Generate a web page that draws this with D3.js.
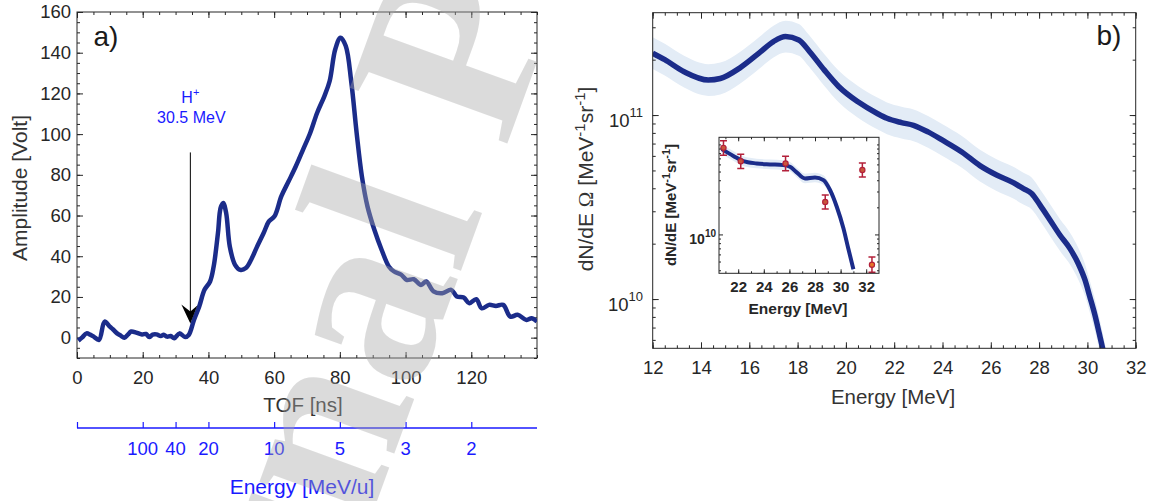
<!DOCTYPE html>
<html>
<head>
<meta charset="utf-8">
<script src="https://cdn.jsdelivr.net/npm/d3@7"></script>
<style>
  body { margin: 0; background: #fff; }
  svg { display: block; }
  text { font-family: "Liberation Sans", Arial, Helvetica, sans-serif; }
</style>
</head>
<body>
<div id="chart"></div>
<script>
// ---- panel a) : TOF trace
var tofNs = [0.4, 1.5, 2.9, 4, 5.1, 6.7, 8.4, 10, 11, 12.2, 13.3, 14.4, 15.5, 16.5, 18, 19.8, 21, 22, 23, 24.2,
  25.5, 26.4, 27.4, 28.5, 29.6, 31.2, 32.9, 34, 35.6, 37.2, 38.8, 40.5, 41.6, 42.9, 43.7, 44.5, 45.4, 46.5, 48.1,
  49.7, 51.4, 53, 54.6, 56.8, 58.4, 60.1, 62.2, 64.4, 66.6, 68.8, 71, 73.1, 75.3, 76.9, 78.6, 80.2, 81.8, 83.5,
  85.1, 86.7, 88.4, 90.5, 92.7, 94.9, 96.5, 98.7, 100.3, 102.5, 104.7, 106.3, 108.5, 111.2, 113.9, 115.6, 117.7,
  119.4, 121.5, 123.2, 125.4, 127.5, 129.7, 131.9, 134.1, 136.8, 138.4, 140]
var amplitudeV = [-1.5, 0, 2.1, 1.5, 0.5, -1.1, 7.9, 5.4, 4, 2.1, 1, 0, 1.5, 3, 2.5, 1.6, 1.8, 0.3, 1.5, 1.6,
  0.8, 1.4, 0.5, 0.8, -0.3, 2.1, 0.3, 1.3, 8.7, 15.3, 23.5, 27.6, 35, 51.4, 63.7, 66.2, 61.2, 44.8, 35.8,
  33.3, 34.2, 38.3, 44, 51.4, 57.1, 59.6, 69.5, 76.8, 84.2, 92.4, 100.7, 110.5, 118.7, 126.1, 141.7, 147.4, 143.3, 125.3,
  100.7, 79.3, 64.5, 53, 43.2, 35, 32.5, 30.9, 28.4, 28.7, 25.9, 27.6, 22.7, 21.8, 23.5, 20.2, 19.7,
  16.9, 18.9, 14.4, 16.1, 15.6, 16.1, 10.3, 11.2, 8.7, 9.5, 7.9]
var tofTicks = [0, 20, 40, 60, 80, 100, 120]
var ampTicks = [0, 20, 40, 60, 80, 100, 120, 140, 160]
var energyAxisTof = [0, 20, 30, 40, 60, 80, 100, 120]
var energyAxisLabels = ["", "100", "40", "20", "10", "5", "3", "2"]
var arrowTof = 34.5, arrowFromV = 91, arrowToV = 7
var ionLabel = { tof: 34.5, v1: 118, v2: 108.5 }

// ---- panel b) : proton spectrum
var specEnergy = [12, 12.5, 13.3, 14.3, 14.8, 15.6, 16.4, 17, 17.5, 18.05, 18.5, 19.1, 19.7, 20.5, 21.3, 21.7,
  22.3, 22.8, 23.4, 24, 24.8, 25.55, 26.24, 26.93, 27.35, 27.69, 28.04, 28.45, 28.86, 29.28, 29.62, 29.9,
  30.1, 30.31, 30.49, 30.63, 30.75]
var specValue = [2.17e11, 2.0e11, 1.72e11, 1.55e11, 1.58e11, 1.8e11, 2.17e11, 2.51e11, 2.67e11, 2.56e11, 2.21e11,
  1.76e11, 1.43e11, 1.18e11, 1.02e11, 9.6e10, 9.1e10, 8.8e10, 8.1e10, 7.3e10, 6.3e10, 5.31e10, 4.72e10, 4.29e10,
  3.98e10, 3.75e10, 3.24e10, 2.69e10, 2.23e10, 1.88e10, 1.56e10, 1.27e10, 1.03e10, 8.2e9, 6.5e9, 5.4e9, 4.5e9]
var specBandFactor = 1.22
var energyTicks = [12, 14, 16, 18, 20, 22, 24, 26, 28, 30, 32]

// ---- inset
var insetEnergy = [20.71, 21.62, 22.4, 23.44, 24.48, 25.52, 26.05, 26.57, 27.22, 28.0, 28.66, 29.18, 29.7, 30.22, 30.6, 31.0]
var insetValue = [8.87e10, 7.46e10, 6.52e10, 6.15e10, 6.0e10, 5.89e10, 5.64e10, 4.89e10, 4.19e10, 4.3e10, 4.01e10,
  3.1e10, 2.03e10, 1.17e10, 6.98e9, 4.11e9]
var pointEnergy = [20.85, 22.2, 25.7, 28.8, 31.7, 32.45]
var pointValue = [9.16e10, 6.5e10, 6.15e10, 2.3e10, 5.2e10, 4.6e9]
var pointLow = [7.6e10, 5.4e10, 5.1e10, 1.92e10, 4.35e10, 3.8e9]
var pointHigh = [1.1e11, 7.8e10, 7.4e10, 2.75e10, 6.2e10, 5.6e9]
var insetTicks = [22, 24, 26, 28, 30, 32]

var W = 1165, H = 501
var ink = "#262626", navy = "#1b2c8a", blue = "#1a1aff", band = "#e3ecf6"

var svg = d3.select("#chart").append("svg").attr("width", W).attr("height", H)
var defs = svg.append("defs")

function clip(id, x0, y0, x1, y1) {
  defs.append("clipPath").attr("id", id).append("rect")
    .attr("x", x0).attr("y", y0).attr("width", x1 - x0).attr("height", y1 - y0)
}

function boxTicks(g, x, y, xMinor, yMinor, xMajor, yMajor, big, small) {
  var x0 = x.range()[0], x1 = x.range()[1], yb = y.range()[0], yt = y.range()[1]
  var add = function(axis, tr) {
    var a = g.append("g").attr("transform", tr).call(axis)
    a.select(".domain").remove()
    a.selectAll("line").attr("stroke", ink)
    return a
  }
  add(d3.axisBottom(x).tickValues(xMinor).tickSize(-small).tickFormat(""), "translate(0," + yb + ")")
  add(d3.axisTop(x).tickValues(xMinor).tickSize(-small).tickFormat(""), "translate(0," + yt + ")")
  add(d3.axisLeft(y).tickValues(yMinor).tickSize(-small).tickFormat(""), "translate(" + x0 + ",0)")
  add(d3.axisRight(y).tickValues(yMinor).tickSize(-small).tickFormat(""), "translate(" + x1 + ",0)")
  add(d3.axisTop(x).tickValues(xMajor).tickSize(-big).tickFormat(""), "translate(0," + yt + ")")
  add(d3.axisRight(y).tickValues(yMajor).tickSize(-big).tickFormat(""), "translate(" + x1 + ",0)")
  g.append("rect").attr("x", x0).attr("y", yt).attr("width", x1 - x0).attr("height", yb - yt)
    .attr("fill", "none").attr("stroke", ink).attr("stroke-width", 1)
}

// ================= panel a)
var xA = d3.scaleLinear().domain([0, 140]).range([77, 537])
var yA = d3.scaleLinear().domain([-10, 160]).range([358, 12])
var gA = svg.append("g")
clip("clipA", 77, 12, 537, 358)

boxTicks(gA, xA, yA, d3.range(0, 141, 5), d3.range(-10, 161, 5), tofTicks, ampTicks, 6, 3)

var axA = gA.append("g").attr("transform", "translate(0,358)")
  .call(d3.axisBottom(xA).tickValues(tofTicks).tickSize(-6).tickPadding(13))
axA.select(".domain").remove()
axA.selectAll("line").attr("stroke", ink)
axA.selectAll("text").attr("font-size", 18.5).attr("fill", ink)

var ayA = gA.append("g").attr("transform", "translate(77,0)")
  .call(d3.axisLeft(yA).tickValues(ampTicks).tickSize(-6).tickPadding(6))
ayA.select(".domain").remove()
ayA.selectAll("line").attr("stroke", ink)
ayA.selectAll("text").attr("font-size", 18.5).attr("fill", ink)

var tofData = tofNs.map(function(t, i) { return { x: t, y: amplitudeV[i] } })
gA.append("path").datum(tofData)
  .attr("clip-path", "url(#clipA)")
  .attr("fill", "none").attr("stroke", navy).attr("stroke-width", 4.5)
  .attr("stroke-linejoin", "round")
  .attr("d", d3.line().x(function(d) { return xA(d.x) }).y(function(d) { return yA(d.y) })
    .curve(d3.curveCatmullRom.alpha(0.5)))

// arrow + ion label
var ax = xA(arrowTof)
gA.append("line").attr("x1", ax).attr("x2", ax)
  .attr("y1", yA(arrowFromV)).attr("y2", yA(arrowToV) - 10)
  .attr("stroke", "#000").attr("stroke-width", 1)
var tipY = yA(arrowToV)
gA.append("path")
  .attr("d", "M" + ax + "," + tipY + "L" + (ax - 9) + "," + (tipY - 19) + "L" + ax + "," + (tipY - 12) +
    "L" + (ax + 7) + "," + (tipY - 18) + "Z")
  .attr("fill", "#000")
var ion = gA.append("text").attr("x", xA(ionLabel.tof)).attr("y", yA(ionLabel.v1) + 6)
  .attr("text-anchor", "middle").attr("font-size", 16).attr("fill", blue)
ion.append("tspan").text("H")
ion.append("tspan").attr("dy", -7).attr("font-size", 11).text("+")
gA.append("text").attr("x", xA(ionLabel.tof) + 1).attr("y", yA(ionLabel.v2) + 6)
  .attr("text-anchor", "middle").attr("font-size", 16).attr("fill", blue).text("30.5 MeV")

gA.append("text").attr("x", 106).attr("y", 46).attr("text-anchor", "middle")
  .attr("font-size", 28).attr("fill", "#1a1a1a").text("a)")

gA.append("text").attr("transform", "translate(27,188) rotate(-90)")
  .attr("text-anchor", "middle").attr("font-size", 21).attr("fill", "#333").text("Amplitude [Volt]")
gA.append("text").attr("x", 303).attr("y", 412).attr("text-anchor", "middle")
  .attr("font-size", 20.5).attr("fill", "#333").text("TOF [ns]")

// secondary energy axis
var eAx = gA.append("g").attr("transform", "translate(0,428)")
  .call(d3.axisTop(xA).tickValues(energyAxisTof).tickSize(6).tickFormat(""))
eAx.select(".domain").remove()
eAx.selectAll("line").attr("stroke", blue).attr("stroke-width", 1.2)
gA.append("line").attr("x1", xA(0)).attr("x2", xA(140)).attr("y1", 428).attr("y2", 428)
  .attr("stroke", blue).attr("stroke-width", 1.5)
gA.selectAll(".elab").data(energyAxisTof).enter().append("text")
  .attr("class", "elab")
  .attr("x", function(d) { return xA(d) }).attr("y", 455)
  .attr("text-anchor", "middle").attr("font-size", 18.5).attr("fill", blue)
  .text(function(d, i) { return energyAxisLabels[i] })
gA.append("text").attr("x", 302).attr("y", 494).attr("text-anchor", "middle")
  .attr("font-size", 21).attr("fill", blue).text("Energy [MeV/u]")

// ================= panel b)
var xB = d3.scaleLinear().domain([12, 32]).range([652.7, 1135.7])
var yB = d3.scaleLog().domain([5.4e9, 3.6e11]).range([348.3, 12.7])
var gB = svg.append("g")
clip("clipB", 652.7, 12.7, 1135.7, 348.3)

var logMinorB = [6e9, 7e9, 8e9, 9e9, 1e10, 2e10, 3e10, 4e10, 5e10, 6e10, 7e10, 8e10, 9e10, 1e11, 2e11, 3e11]
var specData = specEnergy.map(function(e, i) { return { x: e, y: specValue[i] } })
gB.append("path").datum(specData).attr("clip-path", "url(#clipB)")
  .attr("fill", band)
  .attr("d", d3.area().x(function(d) { return xB(d.x) })
    .y0(function(d) { return yB(d.y / specBandFactor) })
    .y1(function(d) { return yB(d.y * specBandFactor) })
    .curve(d3.curveMonotoneX))
gB.append("path").datum(specData).attr("clip-path", "url(#clipB)")
  .attr("fill", "none").attr("stroke", navy).attr("stroke-width", 5.5)
  .attr("d", d3.line().x(function(d) { return xB(d.x) }).y(function(d) { return yB(d.y) })
    .curve(d3.curveMonotoneX))

boxTicks(gB, xB, yB, d3.range(12, 32.01, 0.5), logMinorB, energyTicks, [1e10, 1e11], 6, 3)
var axB = gB.append("g").attr("transform", "translate(0,348.3)")
  .call(d3.axisBottom(xB).tickValues(energyTicks).tickSize(-6).tickPadding(13))
axB.select(".domain").remove()
axB.selectAll("line").attr("stroke", ink)
axB.selectAll("text").attr("font-size", 18.5).attr("fill", ink)
var ayB = gB.append("g").attr("transform", "translate(652.7,0)")
  .call(d3.axisLeft(yB).tickValues([1e10, 1e11]).tickSize(-6).tickFormat(""))
ayB.select(".domain").remove()
ayB.selectAll("line").attr("stroke", ink)
;[1e10, 1e11].forEach(function(v) {
  var t = gB.append("text").attr("x", 643).attr("y", yB(v) + 12).attr("text-anchor", "end")
    .attr("font-size", 18.5).attr("fill", ink)
  t.append("tspan").text("10")
  t.append("tspan").attr("dy", -10).attr("font-size", 13).text(Math.round(Math.log10(v)))
})

gB.append("text").attr("x", 1109).attr("y", 45).attr("text-anchor", "middle")
  .attr("font-size", 28).attr("fill", "#1a1a1a").text("b)")
gB.append("text").attr("x", 893).attr("y", 404).attr("text-anchor", "middle")
  .attr("font-size", 20.5).attr("fill", "#333").text("Energy [MeV]")
var yl = gB.append("text").attr("transform", "translate(593,179) rotate(-90)")
  .attr("text-anchor", "middle").attr("font-size", 21).attr("fill", "#333")
yl.append("tspan").text("dN/dE ")
yl.append("tspan").style("font-family", "'Liberation Serif', serif").text("Ω")
yl.append("tspan").text(" [MeV")
yl.append("tspan").attr("dy", -8).attr("font-size", 15).text("-1")
yl.append("tspan").attr("dy", 8).text("sr")
yl.append("tspan").attr("dy", -8).attr("font-size", 15).text("-1")
yl.append("tspan").attr("dy", 8).text("]")

// ================= inset
var xI = d3.scaleLinear().domain([20.5, 33]).range([719, 879])
var yI = d3.scaleLog().domain([3.7e9, 1.2e11]).range([273.3, 137.3])
var gI = svg.append("g")
clip("clipI", 719, 137.3, 879, 273.3)
gI.append("rect").attr("x", 719).attr("y", 137.3).attr("width", 160).attr("height", 136).attr("fill", "#fff")

var insetData = insetEnergy.map(function(e, i) { return { x: e, y: insetValue[i] } })
gI.append("path").datum(insetData).attr("clip-path", "url(#clipI)")
  .attr("fill", band)
  .attr("d", d3.area().x(function(d) { return xI(d.x) })
    .y0(function(d) { return yI(d.y / 1.13) }).y1(function(d) { return yI(d.y * 1.13) })
    .curve(d3.curveMonotoneX))
gI.append("path").datum(insetData).attr("clip-path", "url(#clipI)")
  .attr("fill", "none").attr("stroke", navy).attr("stroke-width", 4)
  .attr("d", d3.line().x(function(d) { return xI(d.x) }).y(function(d) { return yI(d.y) })
    .curve(d3.curveMonotoneX))

var pts = pointEnergy.map(function(e, i) {
  return { x: e, y: pointValue[i], lo: pointLow[i], hi: pointHigh[i], last: i === pointEnergy.length - 1 }
})
var pg = gI.append("g").attr("clip-path", "url(#clipI)")
var eb = pg.selectAll(".eb").data(pts).enter().append("g").attr("class", "eb")
eb.append("line").attr("x1", function(d) { return xI(d.x) }).attr("x2", function(d) { return xI(d.x) })
  .attr("y1", function(d) { return yI(d.lo) }).attr("y2", function(d) { return yI(d.hi) })
  .attr("stroke", "#b3203a").attr("stroke-width", 1.5)
;["lo", "hi"].forEach(function(k) {
  eb.append("line").attr("x1", function(d) { return xI(d.x) - 3.5 }).attr("x2", function(d) { return xI(d.x) + 3.5 })
    .attr("y1", function(d) { return yI(d[k]) }).attr("y2", function(d) { return yI(d[k]) })
    .attr("stroke", "#b3203a").attr("stroke-width", 1.5)
})
eb.append("circle").attr("cx", function(d) { return xI(d.x) }).attr("cy", function(d) { return yI(d.y) })
  .attr("r", 2.6).attr("fill", function(d) { return d.last ? "#e8742a" : "#c9553c" })
  .attr("stroke", "#b3203a").attr("stroke-width", 1.2)

boxTicks(gI, xI, yI, d3.range(21, 33, 1), [4e9, 5e9, 6e9, 7e9, 8e9, 9e9, 2e10, 3e10, 4e10, 5e10, 6e10, 7e10, 8e10, 9e10, 1e11],
  insetTicks, [1e10], 4, 2)
var axI = gI.append("g").attr("transform", "translate(0,273.3)")
  .call(d3.axisBottom(xI).tickValues(insetTicks).tickSize(-4).tickPadding(8))
axI.select(".domain").remove()
axI.selectAll("line").attr("stroke", ink)
axI.selectAll("text").attr("font-size", 15).attr("font-weight", "bold").attr("fill", ink)
var ayI = gI.append("g").attr("transform", "translate(719,0)")
  .call(d3.axisLeft(yI).tickValues([1e10]).tickSize(-4).tickFormat(""))
ayI.select(".domain").remove()
ayI.selectAll("line").attr("stroke", ink)
var t10 = gI.append("text").attr("x", 716).attr("y", yI(1e10) + 10).attr("text-anchor", "end")
  .attr("font-size", 14).attr("font-weight", "bold").attr("fill", ink)
t10.append("tspan").text("10")
t10.append("tspan").attr("dy", -7).attr("font-size", 10).text("10")
gI.append("text").attr("x", 798).attr("y", 314).attr("text-anchor", "middle")
  .attr("font-size", 15.5).attr("font-weight", "bold").attr("fill", ink).text("Energy [MeV]")
var yli = gI.append("text").attr("transform", "translate(676,205) rotate(-90)")
  .attr("text-anchor", "middle").attr("font-size", 15).attr("font-weight", "bold").attr("fill", ink)
yli.append("tspan").text("dN/dE [MeV")
yli.append("tspan").attr("dy", -6).attr("font-size", 11).text("-1")
yli.append("tspan").attr("dy", 6).text("sr")
yli.append("tspan").attr("dy", -6).attr("font-size", 11).text("-1")
yli.append("tspan").attr("dy", 6).text("]")

// ================= watermark (drawn over the plots, like the reference)
svg.append("text").attr("transform", "translate(432,350) rotate(-70)")
  .attr("x", -700).attr("y", 0)
  .style("font-family", "'Liberation Serif', 'Times New Roman', serif")
  .attr("font-size", 255).attr("font-weight", "bold")
  .attr("fill", "#a8a8a8").attr("opacity", 0.4).text("Journal Pre-proof")
</script>
</body>
</html>
